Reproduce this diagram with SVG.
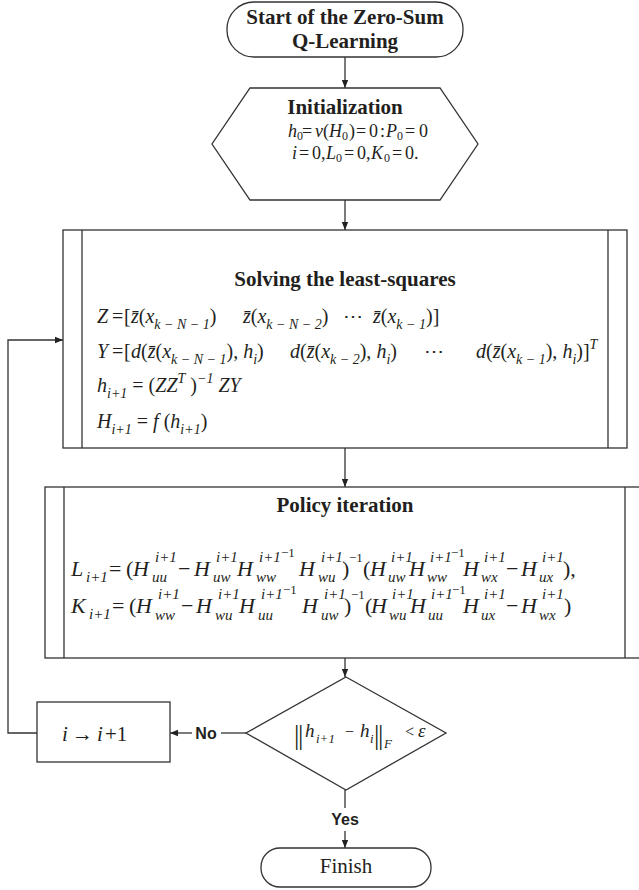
<svg xmlns="http://www.w3.org/2000/svg" width="639" height="890" viewBox="0 0 639 890">
<style>
.n{fill:#fff;stroke:#333;stroke-width:1.3}
.ln{fill:none;stroke:#333;stroke-width:1.3}
.tb{font-family:"Liberation Serif",serif;font-weight:bold;font-size:21px;fill:#231f20;text-anchor:middle}
.m{font-family:"Liberation Serif",serif;font-size:20px;fill:#231f20}
.p{font-family:"Liberation Serif",serif;font-size:22px;fill:#231f20}
.m18{font-family:"Liberation Serif",serif;font-size:18px;fill:#231f20}
.i{font-style:italic}
.sb{font-size:14px;font-style:italic}
.ps{font-size:15px;font-style:italic}
.pe{font-size:13px}
.s12{font-size:12px}
.sf{font-family:"Liberation Sans",sans-serif;font-weight:bold;font-size:16px;fill:#231f20;text-anchor:middle}
</style>
<defs>
<marker id="ah" viewBox="0 0 10 10" refX="10" refY="5" markerWidth="8" markerHeight="8" markerUnits="userSpaceOnUse" orient="auto"><path d="M0,1 L10,5 L0,9 z" fill="#222"/></marker>
</defs>
<rect width="639" height="890" fill="#fff"/>

<g id="connectors">
<line class="ln" x1="345" y1="57" x2="345" y2="88" marker-end="url(#ah)"/>
<line class="ln" x1="345" y1="200" x2="345" y2="230" marker-end="url(#ah)"/>
<line class="ln" x1="345" y1="448" x2="345" y2="487" marker-end="url(#ah)"/>
<line class="ln" x1="345" y1="658" x2="345" y2="677" marker-end="url(#ah)"/>
<line class="ln" x1="246" y1="733" x2="221" y2="733"/>
<line class="ln" x1="192" y1="733" x2="170" y2="733" marker-end="url(#ah)"/>
<line class="ln" x1="345" y1="790" x2="345" y2="808"/>
<line class="ln" x1="345" y1="831" x2="345" y2="848" marker-end="url(#ah)"/>
<polyline class="ln" points="37,733 8,733 8,340 63,340" marker-end="url(#ah)"/>
<text class="sf" x="206" y="739">No</text>
<text class="sf" x="345" y="825">Yes</text>
</g>

<g id="start">
<rect class="n" x="227" y="2" width="236" height="55" rx="27" ry="27"/>
<text class="tb" x="345" y="24">Start of the Zero-Sum</text>
<text class="tb" x="345" y="48">Q-Learning</text>
</g>

<g id="init">
<polygon class="n" points="250,88 440,88 478,144 440,200 250,200 212,144"/>
<text class="tb" x="345" y="114">Initialization</text>
<text class="m18"><tspan class="i" x="288" y="137">h</tspan><tspan class="s12" x="297" y="140">0</tspan><tspan x="302" y="137">=</tspan><tspan class="i" x="315" y="137">v</tspan><tspan x="323" y="137">(</tspan><tspan class="i" x="329" y="137">H</tspan><tspan class="s12" x="342" y="140">0</tspan><tspan x="349" y="137">)</tspan><tspan x="356" y="137">=</tspan><tspan x="369" y="137">0</tspan><tspan x="380" y="137">:</tspan><tspan class="i" x="386" y="137">P</tspan><tspan class="s12" x="397" y="140">0</tspan><tspan x="405" y="137">=</tspan><tspan x="419" y="137">0</tspan></text>
<text class="m18"><tspan class="i" x="292" y="159">i</tspan><tspan x="299" y="159">=</tspan><tspan x="312" y="159">0,</tspan><tspan class="i" x="326" y="159">L</tspan><tspan class="s12" x="336" y="162">0</tspan><tspan x="344" y="159">=</tspan><tspan x="357" y="159">0,</tspan><tspan class="i" x="371" y="159">K</tspan><tspan class="s12" x="384" y="162">0</tspan><tspan x="392" y="159">=</tspan><tspan x="405" y="159">0.</tspan></text>
</g>

<g id="leastsquares">
<rect class="n" x="63" y="230" width="564" height="218"/>
<line class="ln" x1="82" y1="230" x2="82" y2="448"/>
<line class="ln" x1="608" y1="230" x2="608" y2="448"/>
<text class="tb" x="345" y="286">Solving the least-squares</text>
<text class="m" y="323"><tspan x="97" class="i">Z</tspan><tspan x="112">=</tspan><tspan x="124">[</tspan><tspan x="131" class="i">z&#x0304;</tspan>(<tspan class="i">x</tspan><tspan class="sb" dy="6">k − N − 1</tspan><tspan dy="-6">)</tspan><tspan x="243" class="i">z&#x0304;</tspan>(<tspan class="i">x</tspan><tspan class="sb" dy="6">k − N − 2</tspan><tspan dy="-6">)</tspan><tspan x="343">⋯</tspan><tspan x="373" class="i">z&#x0304;</tspan>(<tspan class="i">x</tspan><tspan class="sb" dy="6">k − 1</tspan><tspan dy="-6">)]</tspan></text>
<text class="m" y="358"><tspan x="97" class="i">Y</tspan><tspan x="112">=</tspan><tspan x="124">[</tspan><tspan x="131" class="i">d</tspan>(<tspan class="i">z&#x0304;</tspan>(<tspan class="i">x</tspan><tspan class="sb" dy="6">k − N − 1</tspan><tspan dy="-6">), </tspan><tspan class="i">h</tspan><tspan class="sb" dy="6">i</tspan><tspan dy="-6">)</tspan><tspan x="290" class="i">d</tspan>(<tspan class="i">z&#x0304;</tspan>(<tspan class="i">x</tspan><tspan class="sb" dy="6">k − 2</tspan><tspan dy="-6">), </tspan><tspan class="i">h</tspan><tspan class="sb" dy="6">i</tspan><tspan dy="-6">)</tspan><tspan x="424">⋯</tspan><tspan x="476" class="i">d</tspan>(<tspan class="i">z&#x0304;</tspan>(<tspan class="i">x</tspan><tspan class="sb" dy="6">k − 1</tspan><tspan dy="-6">), </tspan><tspan class="i">h</tspan><tspan class="sb" dy="6">i</tspan><tspan dy="-6">)]</tspan><tspan class="sb" dy="-9">T</tspan></text>
<text class="m" x="97" y="392"><tspan class="i">h</tspan><tspan class="sb" dy="6">i+1</tspan><tspan dy="-6"> = (</tspan><tspan class="i">ZZ</tspan><tspan class="sb" dy="-9">T</tspan><tspan dy="9"> )</tspan><tspan class="sb" dy="-9">−1</tspan><tspan class="i" dy="9"> ZY</tspan></text>
<text class="m" x="97" y="428"><tspan class="i">H</tspan><tspan class="sb" dy="6">i+1</tspan><tspan dy="-6"> = </tspan><tspan class="i">f</tspan> (<tspan class="i">h</tspan><tspan class="sb" dy="6">i+1</tspan><tspan dy="-6">)</tspan></text>
</g>

<g id="policy">
<rect class="n" x="45" y="487" width="610" height="171"/>
<line class="ln" x1="64" y1="487" x2="64" y2="658"/>
<line class="ln" x1="625" y1="487" x2="625" y2="658"/>
<text class="tb" x="345" y="512">Policy iteration</text>
<text class="p">
<tspan class="i" x="71" y="576">L</tspan><tspan class="ps" x="86" y="582">i+1</tspan>
<tspan x="109" y="576">=</tspan><tspan x="126" y="576">(</tspan>
<tspan class="i" x="133" y="576">H</tspan><tspan class="ps" x="155" y="562">i+1</tspan><tspan class="ps" x="152" y="582">uu</tspan>
<tspan x="178" y="576">−</tspan>
<tspan class="i" x="194" y="576">H</tspan><tspan class="ps" x="216" y="562">i+1</tspan><tspan class="ps" x="213" y="582">uw</tspan>
<tspan class="i" x="237" y="576">H</tspan><tspan class="ps" x="259" y="562">i+1</tspan><tspan class="pe" x="281" y="557">−1</tspan><tspan class="ps" x="256" y="582">ww</tspan>
<tspan class="i" x="299" y="576">H</tspan><tspan class="ps" x="321" y="562">i+1</tspan><tspan class="ps" x="318" y="582">wu</tspan>
<tspan x="342" y="576">)</tspan><tspan class="pe" x="349" y="562">−1</tspan>
<tspan x="363" y="576">(</tspan>
<tspan class="i" x="370" y="576">H</tspan><tspan class="ps" x="391" y="562">i+1</tspan><tspan class="ps" x="388" y="582">uw</tspan>
<tspan class="i" x="409" y="576">H</tspan><tspan class="ps" x="430" y="562">i+1</tspan><tspan class="pe" x="451" y="557">−1</tspan><tspan class="ps" x="427" y="582">ww</tspan>
<tspan class="i" x="463" y="576">H</tspan><tspan class="ps" x="484" y="562">i+1</tspan><tspan class="ps" x="481" y="582">wx</tspan>
<tspan x="506" y="576">−</tspan>
<tspan class="i" x="521" y="576">H</tspan><tspan class="ps" x="542" y="562">i+1</tspan><tspan class="ps" x="539" y="582">ux</tspan>
<tspan x="563" y="576">),</tspan>
</text>
<text class="p">
<tspan class="i" x="71" y="613">K</tspan><tspan class="ps" x="89" y="619">i+1</tspan>
<tspan x="112" y="613">=</tspan><tspan x="129" y="613">(</tspan>
<tspan class="i" x="136" y="613">H</tspan><tspan class="ps" x="158" y="599">i+1</tspan><tspan class="ps" x="155" y="620">ww</tspan>
<tspan x="181" y="613">−</tspan>
<tspan class="i" x="196" y="613">H</tspan><tspan class="ps" x="218" y="599">i+1</tspan><tspan class="ps" x="215" y="620">wu</tspan>
<tspan class="i" x="239" y="613">H</tspan><tspan class="ps" x="261" y="599">i+1</tspan><tspan class="pe" x="283" y="594">−1</tspan><tspan class="ps" x="258" y="620">uu</tspan>
<tspan class="i" x="302" y="613">H</tspan><tspan class="ps" x="324" y="599">i+1</tspan><tspan class="ps" x="321" y="620">uw</tspan>
<tspan x="344" y="613">)</tspan><tspan class="pe" x="351" y="599">−1</tspan>
<tspan x="365" y="613">(</tspan>
<tspan class="i" x="371" y="613">H</tspan><tspan class="ps" x="392" y="599">i+1</tspan><tspan class="ps" x="389" y="620">wu</tspan>
<tspan class="i" x="410" y="613">H</tspan><tspan class="ps" x="431" y="599">i+1</tspan><tspan class="pe" x="452" y="594">−1</tspan><tspan class="ps" x="428" y="620">uu</tspan>
<tspan class="i" x="463" y="613">H</tspan><tspan class="ps" x="484" y="599">i+1</tspan><tspan class="ps" x="481" y="620">ux</tspan>
<tspan x="506" y="613">−</tspan>
<tspan class="i" x="521" y="613">H</tspan><tspan class="ps" x="542" y="599">i+1</tspan><tspan class="ps" x="539" y="620">wx</tspan>
<tspan x="564" y="613">)</tspan>
</text>
</g>

<g id="decision">
<polygon class="n" points="346,677 446,733 346,790 246,733"/>
<text class="m" style="font-size:19px">
<tspan x="294" y="744" style="font-size:27px">|</tspan><tspan x="298" y="744" style="font-size:27px">|</tspan>
<tspan class="i" x="305" y="737">h</tspan><tspan class="sb" x="316" y="743" style="font-size:13px">i+1</tspan>
<tspan x="345" y="737" style="font-size:16px">−</tspan>
<tspan class="i" x="360" y="737">h</tspan><tspan class="sb" x="370" y="743" style="font-size:13px">i</tspan>
<tspan x="374" y="744" style="font-size:27px">|</tspan><tspan x="378" y="744" style="font-size:27px">|</tspan>
<tspan class="sb" x="384" y="748" style="font-size:13px">F</tspan>
<tspan x="405" y="737" style="font-size:16px">&lt;</tspan>
<tspan class="i" x="418" y="737">ε</tspan>
</text>
</g>

<g id="increment">
<rect class="n" x="37" y="702" width="133" height="60"/>
<text class="m" x="62" y="741" style="font-size:21px"><tspan class="i">i</tspan><tspan x="72">→</tspan><tspan x="97" class="i">i</tspan><tspan x="105">+1</tspan></text>
</g>

<g id="finish">
<rect class="n" x="261" y="848" width="170" height="39" rx="19" ry="19"/>
<text class="m" x="346" y="873" style="font-size:21px;text-anchor:middle">Finish</text>
</g>
</svg>
